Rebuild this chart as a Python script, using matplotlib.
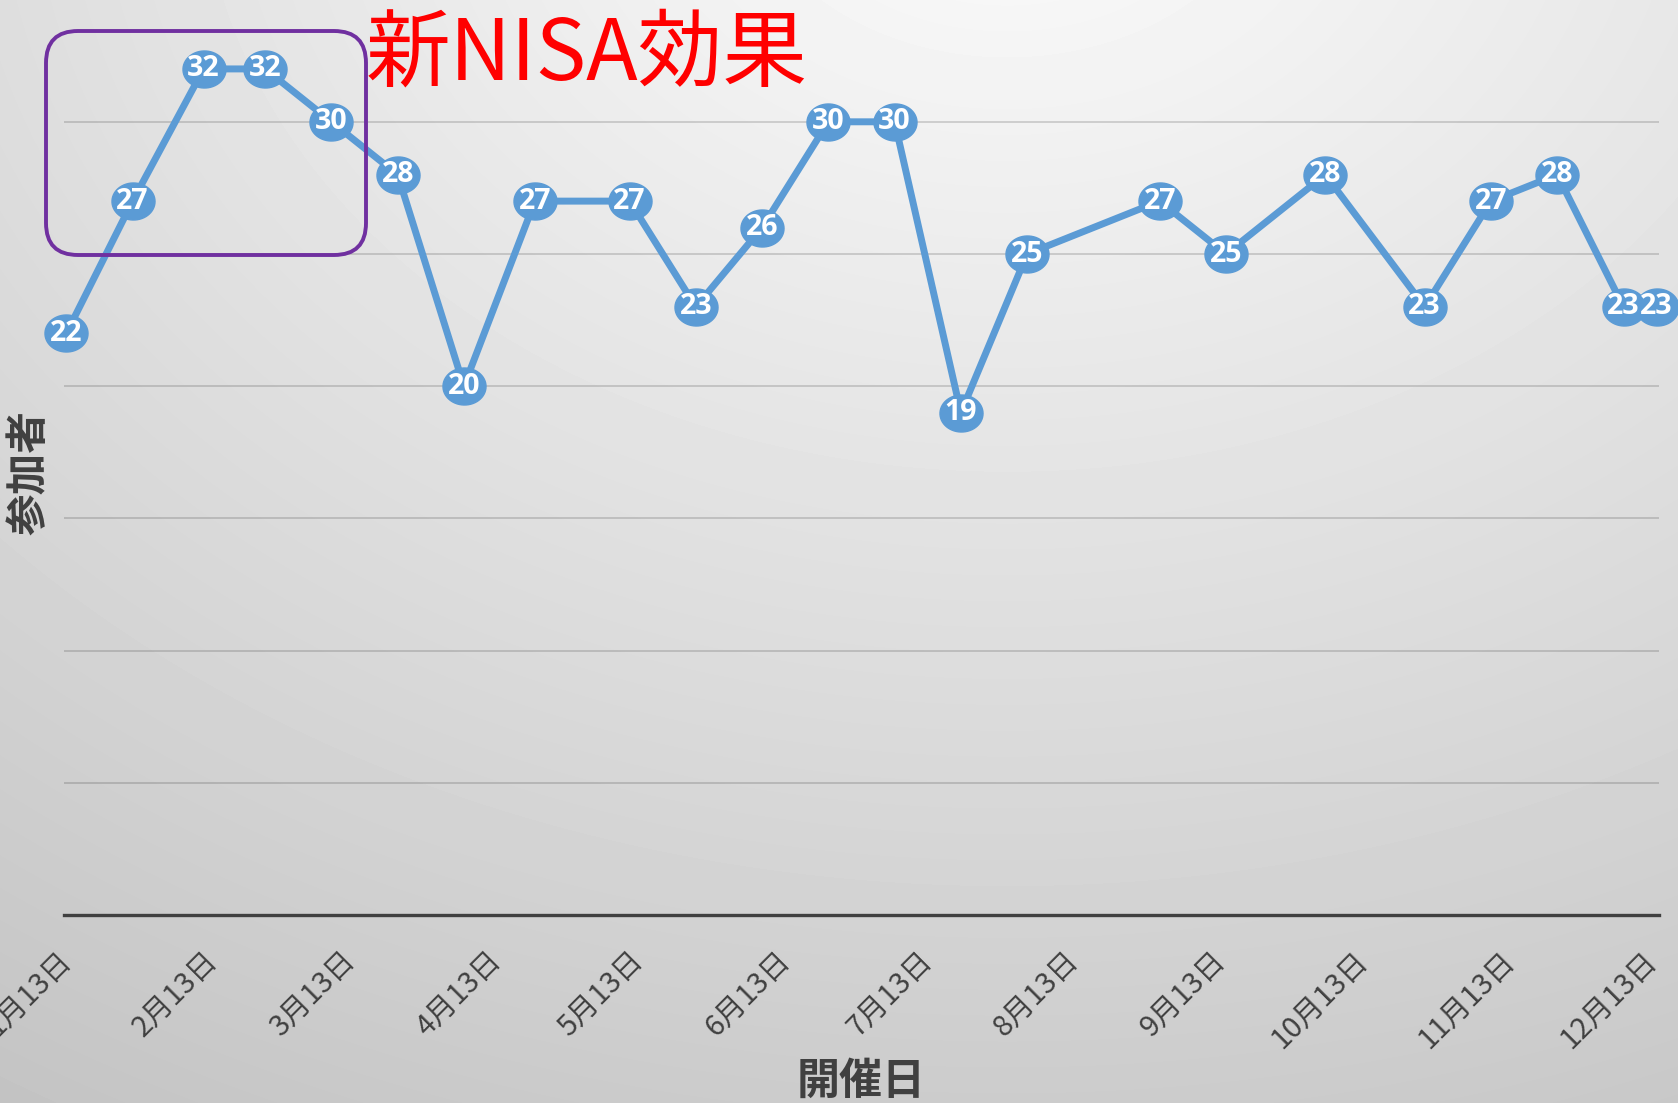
import numpy as np
import pandas as pd
import matplotlib
matplotlib.use("Agg")
import matplotlib.pyplot as plt
from matplotlib.path import Path
from matplotlib.patches import FancyBboxPatch

# 開催日 and 参加者
dates = pd.to_datetime([
    "2024-01-13", "2024-01-27", "2024-02-11", "2024-02-24", "2024-03-09",
    "2024-03-23", "2024-04-06", "2024-04-21", "2024-05-11", "2024-05-25",
    "2024-06-08", "2024-06-22", "2024-07-06", "2024-07-20", "2024-08-03",
    "2024-08-31", "2024-09-14", "2024-10-05", "2024-10-26", "2024-11-09",
    "2024-11-23", "2024-12-07", "2024-12-14",
])
attendees = [22, 27, 32, 32, 30, 28, 20, 27, 27, 23, 26, 30, 30, 19, 25,
             27, 25, 28, 23, 27, 28, 23, 23]

tick_dates = pd.to_datetime([f"2024-{m:02d}-13" for m in range(1, 13)])
tick_labels = [f"{m}月13日" for m in range(1, 13)]

W, H = 1678, 1103
fig = plt.figure(figsize=(W / 100, H / 100), dpi=100)

# background gradient (light at top, grey toward bottom / edges)
yy, xx = np.mgrid[0:H, 0:W]
d = np.hypot((xx - 0.6 * W) / 1.3, yy + 150) / 1300.0
grad = np.clip(252 - 50 * d, 185, 250)
bg = fig.add_axes([0, 0, 1, 1], zorder=-5)
bg.imshow(grad, cmap="gray", vmin=0, vmax=255, aspect="auto", interpolation="bilinear")
bg.axis("off")

ax = fig.add_axes([64 / W, 188 / H, (1659 - 64) / W, 915 / H])
ax.patch.set_alpha(0)

# ellipse marker
t = np.linspace(0, 2 * np.pi, 60)
ell = Path(np.column_stack([np.cos(t), 0.86 * np.sin(t)]), closed=True)

blue = "#5B9BD5"
ax.plot(dates, attendees, color=blue, lw=5, marker=ell, ms=31,
        mfc=blue, mec=blue, clip_on=False, zorder=3)
for x, v in zip(dates, attendees):
    ax.text(x, v, str(v), ha="center", va="center", color="white",
            fontsize=20.5, fontweight="bold", family="Open Sans", zorder=4,
            clip_on=False)

ax.set_xlim(dates[0] - pd.Timedelta(hours=12), dates[-1] + pd.Timedelta(hours=12))
ax.set_ylim(0, 915 / 26.44)
ax.set_yticks(range(0, 35, 5))
ax.set_yticklabels([])
ax.grid(axis="y", color="black", alpha=0.15, lw=1.4)
ax.set_axisbelow(True)
ax.set_xticks(tick_dates)
ax.set_xticklabels(tick_labels, rotation=45, ha="right", va="center",
                   rotation_mode="anchor",
                   fontsize=21, color="#404040", family="Noto Sans CJK JP")
ax.tick_params(length=0, pad=30)
for s in ["left", "right", "top"]:
    ax.spines[s].set_visible(False)
ax.spines["bottom"].set_color("#404040")
ax.spines["bottom"].set_linewidth(2.4)

fig.text(30 / W, 1 - 473 / H, "参加者", rotation=90, ha="center", va="center",
         fontsize=30, fontweight="bold", color="#404040", family="Noto Sans CJK JP")
fig.text(861 / W, 1 - 1081 / H, "開催日", ha="center", va="center",
         fontsize=31, fontweight="bold", color="#404040", family="Noto Sans CJK JP")

# annotation
fig.text(366 / W, 1 - 80 / H, "新NISA効果", ha="left", va="baseline",
         fontsize=61, color="red", family="Noto Sans CJK JP")
box = FancyBboxPatch((0.46, H / 100 - 2.55), 3.2, 2.24,
                     boxstyle="round,pad=0,rounding_size=0.32",
                     transform=fig.dpi_scale_trans, fill=False,
                     ec="#7030A0", lw=2.8, zorder=10)
fig.patches.append(box)

fig.savefig("out.png", dpi=100)
